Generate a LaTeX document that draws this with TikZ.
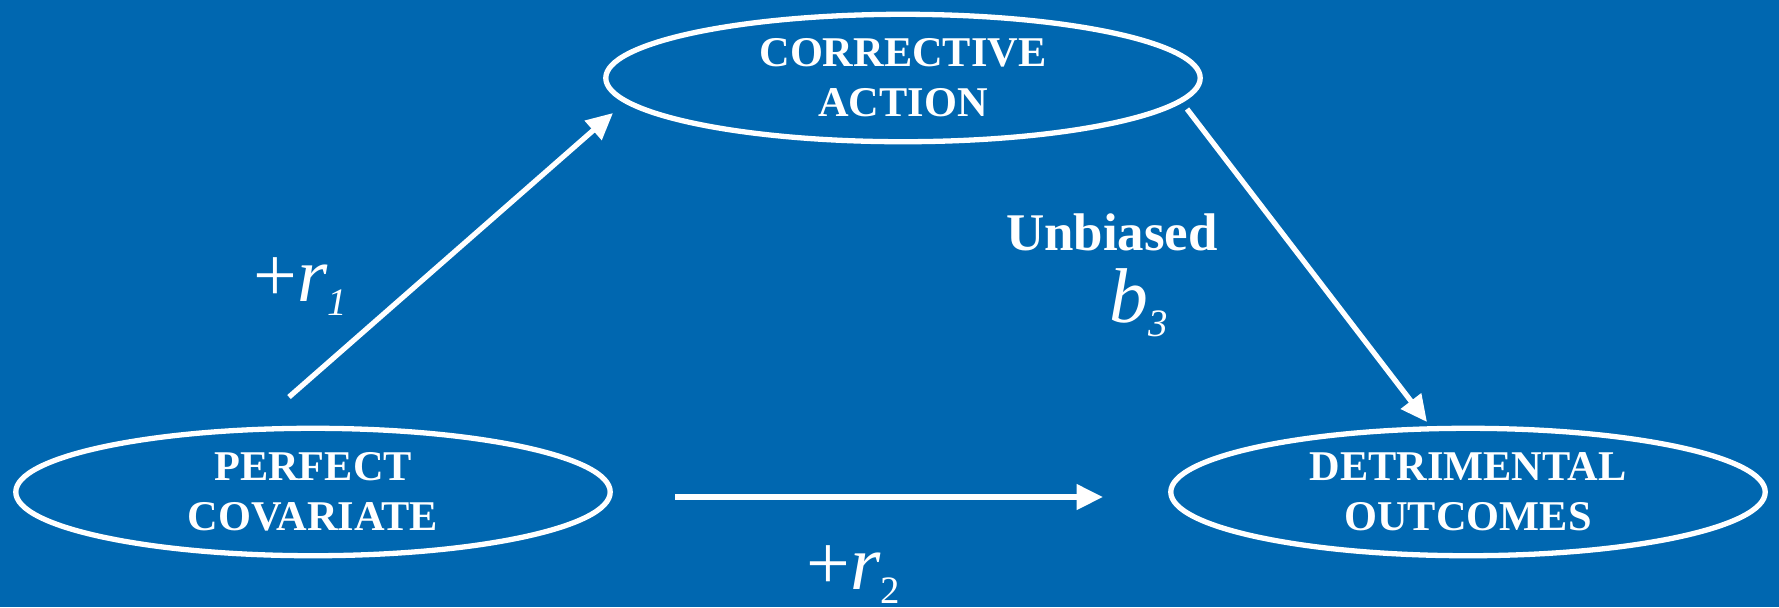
\documentclass[tikz,border=0pt]{standalone}
\usepackage{fontspec}
\setmainfont{Liberation Serif}
\usetikzlibrary{shapes.geometric,arrows.meta}
\definecolor{slideblue}{RGB}{0,103,176}
\tikzset{
  stage/.style={ellipse, draw=white, line width=1.5pt, minimum width=168.4pt,
    minimum height=36.1pt, inner sep=0pt, align=center, text=white,
    font=\fontsize{12}{14.2}\selectfont\bfseries},
  link/.style={draw=white, line width=1.5pt, -{Triangle[length=7.5pt,width=7pt]}},
  coef/.style={text=white, inner sep=0pt, anchor=base west,
    font=\fontsize{22}{26}\selectfont},
}
\newcommand{\subidx}[1]{\raisebox{-4.2pt}{\fontsize{11}{13}\selectfont #1}}
\begin{document}
\begin{tikzpicture}[x=0.2833pt, y=-0.2833pt, line join=round]
  \fill[slideblue] (0,0) rectangle (1779,607);
  \useasboundingbox (0,0) rectangle (1779,607);

  \node[stage] (corrective) at (903,78)  {CORRECTIVE\\ACTION};
  \node[stage] (covariate)  at (313,492) {PERFECT\\COVARIATE};
  \node[stage] (outcomes)   at (1468,492) {DETRIMENTAL\\OUTCOMES};

  \coordinate (r1tail) at (289,397);
  \coordinate (r1head) at (613,113);
  \coordinate (b3tail) at (1187,109);
  \coordinate (b3head) at (1427,422);
  \coordinate (r2tail) at (675,497);
  \coordinate (r2head) at (1103,497);

  \draw[link] (r1tail) -- (r1head);
  \draw[link] (b3tail) -- (b3head);
  \draw[link] (r2tail) -- (r2head);

  \node[coef] (r1) at (253,301) {+\textit{r}\subidx{\textit{1}}};
  \node[coef] (r2) at (806,589) {+\textit{r}\subidx{2}};
  \node[coef, anchor=base, font=\fontsize{15}{18}\selectfont\bfseries]
    (unbiased) at (1112,250) {Unbiased};
  \node[coef] (b3) at (1109,322) {\textit{b}\subidx{\textit{3}}};
\end{tikzpicture}
\end{document}
